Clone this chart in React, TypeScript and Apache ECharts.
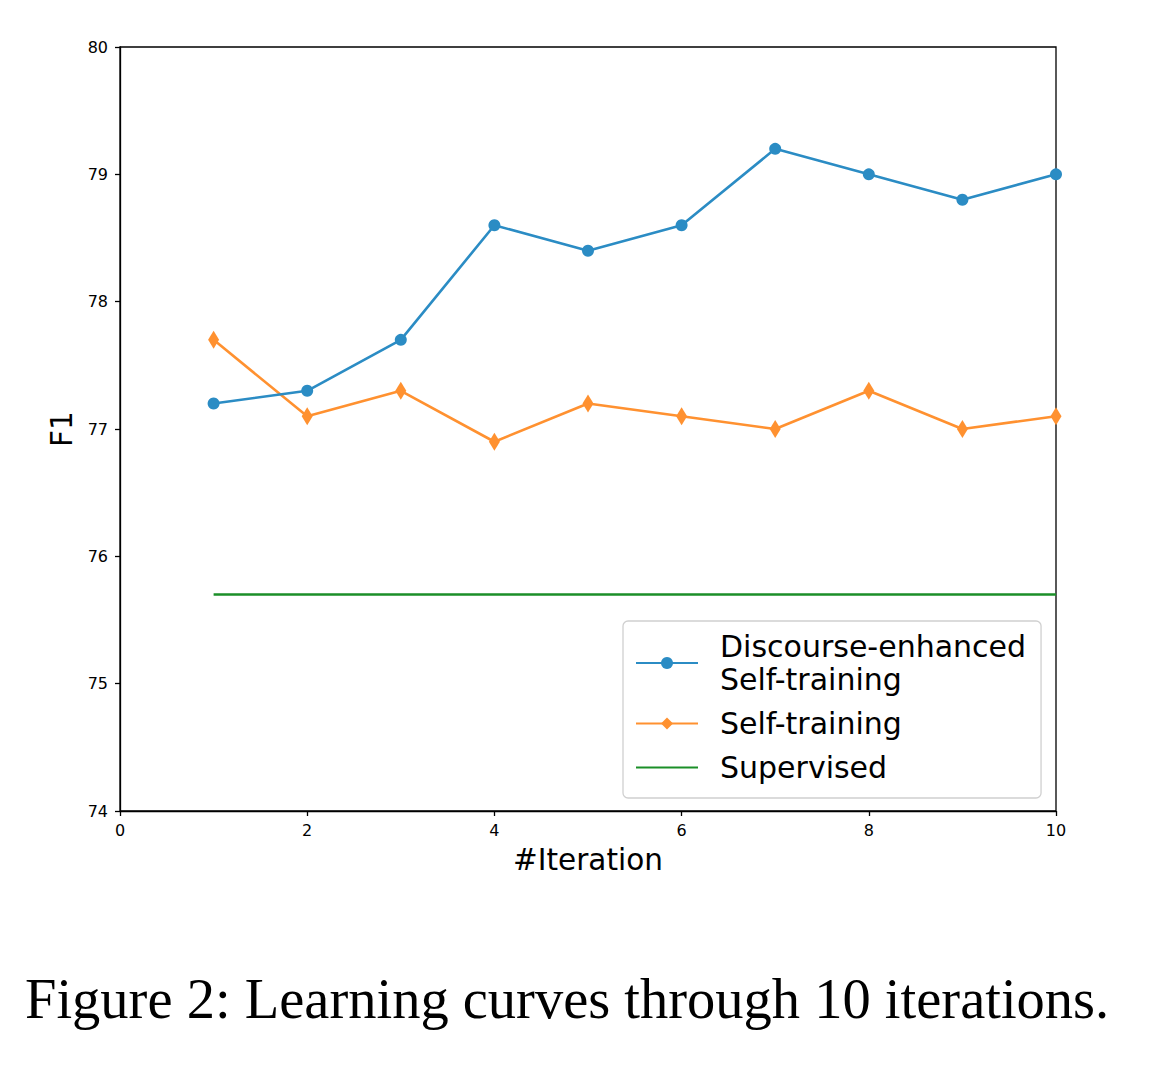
import React, { useEffect, useRef } from "react";
import * as echarts from "echarts";

const iterations = [1, 2, 3, 4, 5, 6, 7, 8, 9, 10];
const discourseEnhanced = [77.2, 77.3, 77.7, 78.6, 78.4, 78.6, 79.2, 79.0, 78.8, 79.0];
const selfTraining = [77.7, 77.1, 77.3, 76.9, 77.2, 77.1, 77.0, 77.3, 77.0, 77.1];
const supervised = [75.7, 75.7, 75.7, 75.7, 75.7, 75.7, 75.7, 75.7, 75.7, 75.7];
const seriesNames = ["Discourse-enhanced\nSelf-training", "Self-training", "Supervised"];
const caption = "Figure 2: Learning curves through 10 iterations.";

const pair = (ys: number[]) => iterations.map((x, i) => [x, ys[i]]);

export default function App() {
  const ref = useRef<HTMLDivElement>(null);
  useEffect(() => {
    const chart = echarts.init(ref.current!, null, { renderer: "svg" });
    const font = "DejaVu Sans";
    chart.setOption({
      animation: false,
      backgroundColor: "#fff",
      grid: {
        left: 120,
        right: 118,
        top: 47,
        bottom: 277,
        show: true,
        borderColor: "#000",
        borderWidth: 1.3,
        backgroundColor: "transparent",
      },
      title: {
        text: caption,
        left: 25,
        top: 970,
        padding: 0,
        textStyle: {
          fontFamily: "Liberation Serif",
          fontWeight: "normal",
          fontSize: 56.5,
          color: "#000",
        },
      },
      xAxis: {
        type: "value",
        min: 0,
        max: 10,
        interval: 2,
        name: "#Iteration",
        nameLocation: "middle",
        nameGap: 34,
        nameTextStyle: { fontFamily: font, fontSize: 29.5, color: "#000" },
        axisLine: { lineStyle: { color: "#000", width: 1.3 } },
        axisTick: { show: true, length: 5, lineStyle: { color: "#000", width: 1.3 } },
        axisLabel: { fontFamily: font, fontSize: 16, color: "#000", margin: 11 },
        splitLine: { show: false },
      },
      yAxis: {
        type: "value",
        min: 74,
        max: 80,
        interval: 1,
        name: "F1",
        nameLocation: "middle",
        nameGap: 42,
        nameTextStyle: { fontFamily: font, fontSize: 29.5, color: "#000" },
        axisLine: { show: true, lineStyle: { color: "#000", width: 1.3 } },
        axisTick: { show: true, length: 5, lineStyle: { color: "#000", width: 1.3 } },
        axisLabel: { fontFamily: font, fontSize: 16, color: "#000", margin: 12 },
        splitLine: { show: false },
      },
      legend: {
        orient: "vertical",
        left: 623,
        top: 621,
        padding: [9, 15, 14, 12],
        itemGap: 11,
        itemWidth: 62,
        itemHeight: 15,
        backgroundColor: "#fff",
        borderColor: "#d0d0d0",
        borderWidth: 1.3,
        borderRadius: 5,
        textStyle: {
          fontFamily: font,
          fontSize: 30,
          color: "#000",
          lineHeight: 33,
          padding: [0, 0, 0, 17],
        },
        data: [
          seriesNames[0],
          seriesNames[1],
          { name: seriesNames[2], itemStyle: { opacity: 0 } },
        ],
      },
      series: [
        {
          name: seriesNames[0],
          type: "line",
          data: pair(discourseEnhanced),
          symbol: "circle",
          symbolSize: 12,
          lineStyle: { color: "#2b8cc4", width: 2.6 },
          itemStyle: { color: "#2b8cc4" },
          z: 3,
        },
        {
          name: seriesNames[1],
          type: "line",
          data: pair(selfTraining),
          symbol: "diamond",
          symbolSize: [11, 18],
          lineStyle: { color: "#ff9130", width: 2.6 },
          itemStyle: { color: "#ff9130" },
          z: 2,
        },
        {
          name: seriesNames[2],
          type: "line",
          data: pair(supervised),
          symbol: "none",
          lineStyle: { color: "#1b8f28", width: 2.6 },
          itemStyle: { color: "#1b8f28" },
          z: 1,
        },
      ],
    });
    return () => chart.dispose();
  }, []);
  return (
    <div
      ref={ref}
      style={{ position: "absolute", left: 0, top: 0, width: 1174, height: 1088 }}
    />
  );
}
